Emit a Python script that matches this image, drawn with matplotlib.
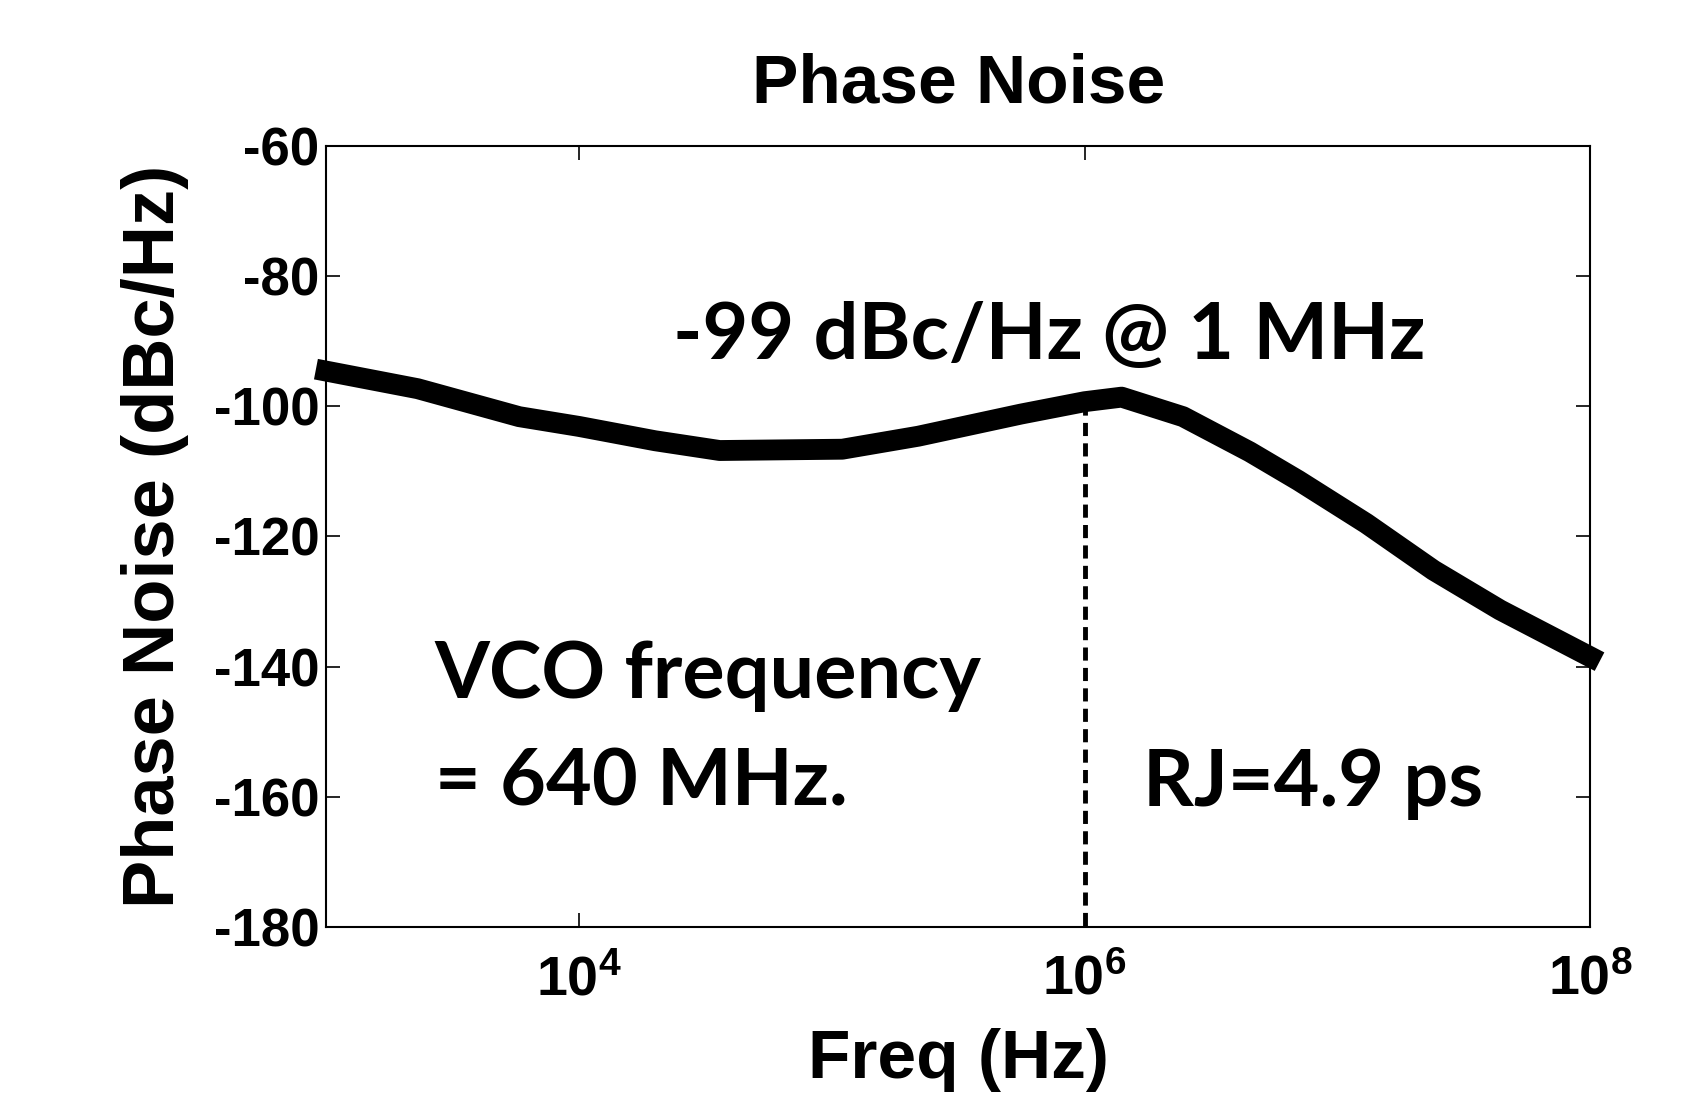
import matplotlib
matplotlib.use('Agg')
import matplotlib.pyplot as plt
from matplotlib.ticker import FixedLocator, NullLocator

# phase noise curve (Hz, dBc/Hz)
freq = [1e3, 2.3e3, 5.8e3, 1e4, 2e4, 3.6e4, 1.1e5, 2.2e5, 5.6e5, 1e6, 1.4e6,
        2.45e6, 4.5e6, 7e6, 1.3e7, 2.4e7, 4.4e7, 1e8]
pn = [-94.6, -97.3, -101.6, -103.1, -105.3, -106.8, -106.6, -104.6, -101.2, -99.3, -98.6,
      -101.6, -107.0, -111.4, -118.0, -125.2, -131.3, -138.5]

marker_f = 1e6
marker_pn = -99.3

yticks = [-180, -160, -140, -120, -100, -80, -60]
xticks = [1e4, 1e6, 1e8]

plt.rcParams['font.family'] = ['Liberation Sans', 'DejaVu Sans']
plt.rcParams['font.weight'] = 'bold'
plt.rcParams['mathtext.default'] = 'regular'
plt.rcParams['axes.unicode_minus'] = False

fig = plt.figure(figsize=(16.9, 10.97), dpi=100)
ax = fig.add_axes([0.193, 0.155, 0.748, 0.712])

ax.semilogx(freq, pn, color='black', lw=15, solid_capstyle='projecting',
            solid_joinstyle='round', clip_on=False, zorder=3)
ax.plot([marker_f, marker_f], [marker_pn, -180], color='black', lw=3.5,
        linestyle=(0, (2.7, 1.5)))

ax.set_xlim(1e3, 1e8)
ax.set_ylim(-180, -60)
ax.xaxis.set_major_locator(FixedLocator(xticks))
ax.xaxis.set_minor_locator(NullLocator())
ax.set_yticks(yticks)
ax.tick_params(direction='in', length=10, width=1.2, top=True, right=True, labelsize=38)
ax.tick_params(axis='y', pad=5)
ax.tick_params(axis='x', pad=20, labelsize=40)
for s in ax.spines.values():
    s.set_linewidth(1.5)

ax.set_title('Phase Noise', fontsize=50, fontweight='bold', pad=31)
ax.set_xlabel('Freq (Hz)', fontsize=50, fontweight='bold', labelpad=15)
ax.set_ylabel('Phase Noise (dBc/Hz)', fontsize=52, fontweight='bold', labelpad=18)

ax.text(10**4.37, -89.3, '-99 dBc/Hz @ 1 MHz', fontsize=57, fontweight='bold',
        family='Lato', va='center', ha='left')
ax.text(10**3.43, -141.5, 'VCO frequency', fontsize=57, fontweight='bold',
        family='Lato', va='center', ha='left')
ax.text(10**3.43, -158, '= 640 MHz.', fontsize=57, fontweight='bold',
        family='Lato', va='center', ha='left')
ax.text(10**6.23, -158, 'RJ=4.9 ps', fontsize=57, fontweight='bold',
        family='Lato', va='center', ha='left')

fig.savefig('out.png', dpi=100)
